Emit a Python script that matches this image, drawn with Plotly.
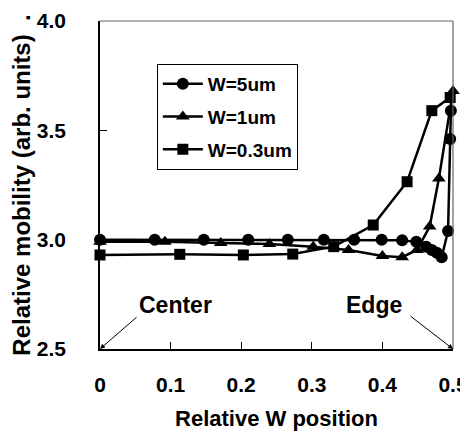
import plotly.graph_objects as go

# W = 5 um (circles)
x_5um = [0, 0.0775, 0.147, 0.210, 0.266, 0.317, 0.360, 0.399, 0.428, 0.448, 0.462, 0.470, 0.477, 0.484, 0.493, 0.496, 0.497]
y_5um = [3.00, 3.00, 3.00, 3.00, 3.00, 3.00, 3.00, 3.00, 2.997, 2.99, 2.968, 2.953, 2.94, 2.92, 3.04, 3.46, 3.59]

# W = 1 um (triangles)
x_1um = [0, 0.092, 0.171, 0.240, 0.302, 0.352, 0.400, 0.428, 0.449, 0.467, 0.480, 0.500]
y_1um = [2.99, 2.99, 2.985, 2.98, 2.968, 2.953, 2.925, 2.92, 2.953, 3.06, 3.28, 3.68]

# W = 0.3 um (squares)
x_03um = [0, 0.113, 0.203, 0.273, 0.331, 0.387, 0.435, 0.470, 0.496]
y_03um = [2.93, 2.933, 2.93, 2.934, 2.968, 3.067, 3.265, 3.59, 3.65]

x_ticks = [0, 0.1, 0.2, 0.3, 0.4, 0.5]
x_ticktext = ["0", "0.1", "0.2", "0.3", "0.4", "0.5"]
y_ticks = [2.5, 3.0, 3.5, 4.0]

FONT = "Arial, Liberation Sans, sans-serif"

fig = go.Figure()
series = [
    ("W=5um", x_5um, y_5um, "circle", 12),
    ("W=1um", x_1um, y_1um, "triangle-up", 12),
    ("W=0.3um", x_03um, y_03um, "square", 11),
]
for name, xs, ys, sym, sz in series:
    fig.add_trace(go.Scatter(
        x=xs, y=ys, name=name, legendgroup=name, mode="lines+markers",
        line=dict(color="black", width=2.5),
        marker=dict(symbol=sym, size=sz, color="black"),
        cliponaxis=False,
    ))

fig.update_layout(
    width=468, height=431,
    margin=dict(l=92, r=23, t=13, b=90, autoexpand=False),
    paper_bgcolor="white", plot_bgcolor="white",
    font=dict(family=FONT, color="black", weight="bold"),
    showlegend=True,
    legend=dict(
        x=0.161, y=0.869, xanchor="left", yanchor="top",
        bordercolor="black", borderwidth=1, bgcolor="white",
        font=dict(size=19, family=FONT, weight="bold"),
        traceorder="grouped", tracegroupgap=5, itemwidth=40,
    ),
    xaxis=dict(
        range=[0, 0.5], tickvals=x_ticks, ticktext=x_ticktext,
        ticks="inside", ticklen=7, tickcolor="black", tickwidth=1,
        showline=True, linecolor="black", linewidth=1.5,
        showgrid=False, zeroline=False, automargin=False,
        tickfont=dict(size=21, family=FONT, weight="bold"),
        ticklabelstandoff=16,
        title=dict(text="Relative W position", font=dict(size=22, family=FONT, weight="bold"), standoff=16),
    ),
    yaxis=dict(
        range=[2.5, 4.0], tickvals=y_ticks, tickformat=".1f",
        ticks="inside", ticklen=7, tickcolor="black", tickwidth=1,
        showline=True, linecolor="black", linewidth=1.5,
        showgrid=False, zeroline=False, automargin=False,
        tickfont=dict(size=21, family=FONT, weight="bold"),
        ticklabelstandoff=28,
        title=dict(text="Relative mobility (arb. units)  .", font=dict(size=24, family=FONT, weight="bold"), standoff=3),
    ),
)

# top and right frame lines (grey)
fig.add_shape(type="line", xref="x domain", yref="y domain", x0=0, x1=1, y0=1, y1=1,
              line=dict(color="#666666", width=1.2))
fig.add_shape(type="line", xref="x domain", yref="y domain", x0=1, x1=1, y0=0, y1=1,
              line=dict(color="#666666", width=1.2))

# labels
fig.add_annotation(x=0.107, y=2.70, text="Center", showarrow=False,
                   font=dict(size=23, family=FONT, weight="bold"))
fig.add_annotation(x=0.388, y=2.70, text="Edge", showarrow=False,
                   font=dict(size=23, family=FONT, weight="bold"))
# arrows
fig.add_annotation(x=0, y=2.5, ax=38, ay=-33, text="", showarrow=True,
                   arrowhead=2, arrowsize=1, arrowwidth=1, arrowcolor="black")
fig.add_annotation(x=0.5, y=2.5, ax=-44, ay=-34, text="", showarrow=True,
                   arrowhead=2, arrowsize=1, arrowwidth=1, arrowcolor="black")

fig.write_html("out.html")
